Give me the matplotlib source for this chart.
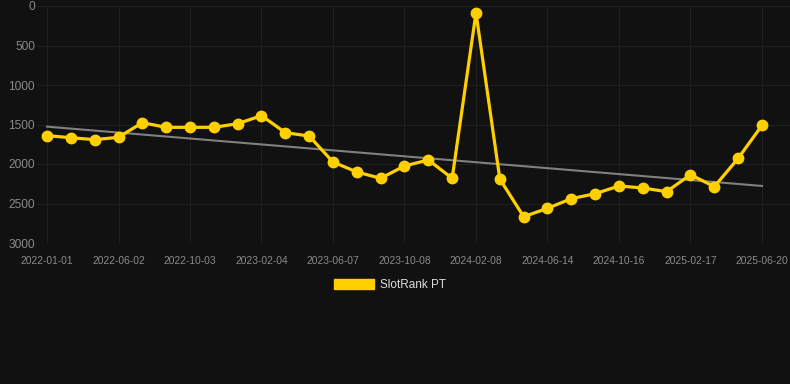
import numpy as np
import matplotlib.pyplot as plt
from matplotlib.patches import Patch

plt.rcParams['font.family'] = ['Liberation Sans', 'DejaVu Sans']

tick_dates = ['2022-01-01', '2022-06-02', '2022-10-03', '2023-02-04', '2023-06-07',
              '2023-10-08', '2024-02-08', '2024-06-14', '2024-10-16', '2025-02-17',
              '2025-06-20']
rank = [1641, 1667, 1692, 1662, 1477, 1536, 1536, 1536, 1490, 1388,
        1603, 1646, 1975, 2101, 2181, 2025, 1949, 2181, 85, 2190,
        2667, 2561, 2439, 2376, 2278, 2304, 2350, 2135, 2287, 1928,
        1511]
trend_ends = [1527, 2278]

bg = '#111111'
yellow = '#FFD000'

fig = plt.figure(figsize=(7.9, 3.84), dpi=100, facecolor=bg)
ax = fig.add_axes([37 / 790, 1 - 243 / 384, 1 - 37 / 790, 237 / 384])
ax.set_facecolor(bg)

x = np.arange(len(rank))
ax.plot([x[0], x[-1]], trend_ends, color='#808080', lw=1.5, zorder=2)
ax.plot(x, rank, color=yellow, lw=2.3, marker='o', ms=7.5, zorder=3)

ax.set_ylim(3000, 0)
ax.set_xlim(-10 / 23.83, 30 + 28 / 23.83)
ax.set_yticks([0, 500, 1000, 1500, 2000, 2500, 3000])
ax.set_xticks(x[::3])
ax.set_xticklabels(tick_dates)
ax.tick_params(axis='y', length=0, pad=1.5, labelsize=8.6, labelcolor='#8a8a8a')
ax.tick_params(axis='x', length=0, pad=9, labelsize=7.4, labelcolor='#8a8a8a')
ax.grid(True, color='#1f1f1f', lw=0.8)
ax.set_axisbelow(True)
for s in ax.spines.values():
    s.set_visible(False)

fig.legend(handles=[Patch(facecolor=yellow, edgecolor=yellow, label='SlotRank PT')],
           loc='center', bbox_to_anchor=(390 / 790, 1 - 285 / 384), frameon=False,
           labelcolor='#dddddd', fontsize=8.5, handlelength=3.4, handleheight=1.0,
           handletextpad=0.5)

fig.savefig('out.png', dpi=100, facecolor=bg)
